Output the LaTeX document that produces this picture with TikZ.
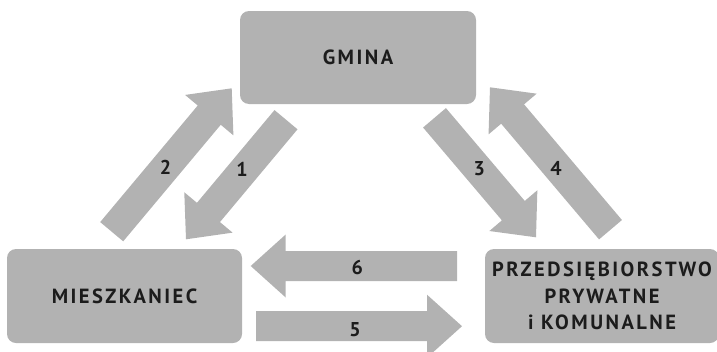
\documentclass[tikz,border=0pt]{standalone}
\usepackage{fontspec}
\usetikzlibrary{calc}
\newfontfamily\lblfont[LetterSpace=12]{PT Sans}
\definecolor{boxgray}{RGB}{178,178,178}
\definecolor{txt}{RGB}{28,28,28}
\tikzset{
  box/.style={fill=boxgray, rounded corners=9pt, inner sep=0pt, align=center,
    font=\lblfont\bfseries\fontsize{20.5}{26.5}\selectfont, text=txt},
  num/.style={font=\lblfont\bfseries\fontsize{20}{22}\selectfont, text=txt, inner sep=0pt},
  barrow/.style={fill=boxgray}
}
\newcommand\blockarr[2]{%
  \coordinate (hb) at ($(#2)!35pt!(#1)$);
  \fill[barrow] ($(#1)!15pt!90:(#2)$) -- ($(hb)!15pt!90:(#2)$) -- ($(hb)!31.5pt!90:(#2)$)
    -- (#2) -- ($(hb)!31.5pt!-90:(#2)$) -- ($(hb)!15pt!-90:(#2)$) -- ($(#1)!15pt!-90:(#2)$) -- cycle;
}
\begin{document}
\begin{tikzpicture}[x=1pt,y=-1pt]
\useasboundingbox (0,0) rectangle (717,351);
% boxes
\node[box, minimum width=236pt, minimum height=93pt] (gmina) at (358,57.5) {GMINA};
\node[box, minimum width=235pt, minimum height=94pt] (miesz) at (124.5,296) {MIESZKANIEC};
\node[box, minimum width=234pt, minimum height=94pt] (przed) at (602,296) {PRZEDSIĘBIORSTWO\\PRYWATNE\\i KOMUNALNE};
% arrow end points
\coordinate (t2) at (111.7,231.7); \coordinate (p2) at (231.7,88.3);
\coordinate (t1) at (286,119.7);   \coordinate (p1) at (186,239.3);
\coordinate (t3) at (434.5,117.8); \coordinate (p3) at (536,237.3);
\coordinate (t4) at (610.5,229.7); \coordinate (p4) at (490,87.3);
\coordinate (t6) at (457,266);     \coordinate (p6) at (250.7,266);
\coordinate (t5) at (256,326.2);   \coordinate (p5) at (462,326.2);
\blockarr{t1}{p1}
\blockarr{t2}{p2}
\blockarr{t3}{p3}
\blockarr{t4}{p4}
\blockarr{t5}{p5}
\blockarr{t6}{p6}
% labels
\node[num] (n2) at (165.5,167.7) {2};
\node[num] (n1) at (242,169.7) {1};
\node[num] (n3) at (479.3,168.3) {3};
\node[num] (n4) at (556,168.3) {4};
\node[num] (n6) at (357.3,267.7) {6};
\node[num] (n5) at (355,330) {5};
\end{tikzpicture}
\end{document}
